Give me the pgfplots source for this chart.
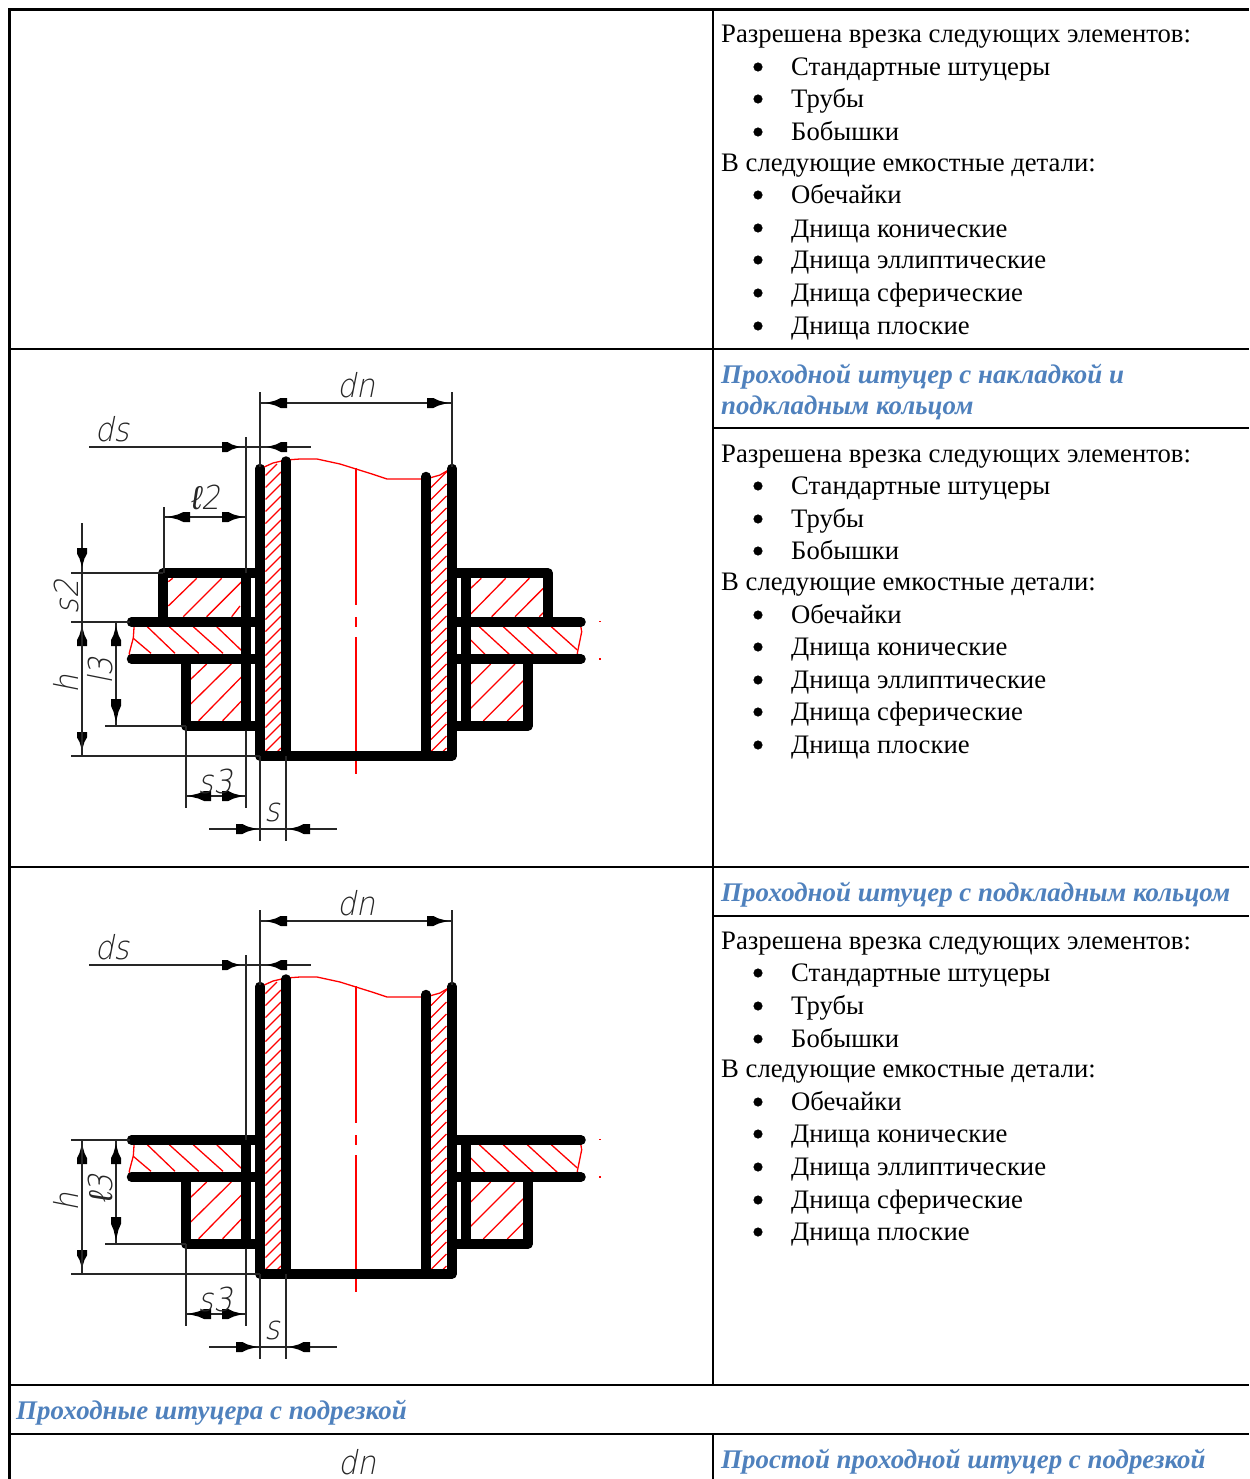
\documentclass[border=0pt]{standalone}
\usepackage{pgfplots}
\pgfplotsset{compat=1.18}
\usepackage{fontspec}
\setmainfont{Liberation Serif}
\newfontfamily\cad[FakeSlant=0.2,FakeStretch=0.9]{DejaVu Sans ExtraLight}
\newfontfamily\cadb[FakeSlant=0.15]{Liberation Sans}
\definecolor{hd}{HTML}{4F81BD}
\pgfplotsset{
 sft/.style={},
 thick line/.style={black,line width=9.5pt,line cap=round,line join=round,no marks,sft},
 thin line/.style={black!85,line width=1.4pt,no marks,sft},
 hatch/.style={red,line width=1.3pt,no marks,unbounded coords=jump,sft},
 grid line/.style={black,no marks,line cap=butt}
}
\newcommand\T[1]{\addplot[thick line] coordinates {#1};}
\newcommand\N[1]{\addplot[thin line] coordinates {#1};}
\newcommand\HH[1]{\addplot[hatch] coordinates {#1};}
\newcommand\harr[3]{% tip, tail, y
 \pgfmathsetmacro\mA{#1+0.45*(#2-#1)}\pgfmathsetmacro\mB{#1+0.7*(#2-#1)}%
 \pgfmathsetmacro\yA{#3-2.5}\pgfmathsetmacro\yB{#3+2.5}\pgfmathsetmacro\yC{#3-5}\pgfmathsetmacro\yD{#3+5}%
 \edef\tmp{\noexpand\addplot[fill=black,draw=none,no marks,sft] coordinates {(#1,#3)(\mA,\yA)(\mB,\yC)(#2,\yC)(#2,\yD)(\mB,\yD)(\mA,\yB)} --cycle;}\tmp}
\newcommand\varr[3]{% tip, tail, x
 \pgfmathsetmacro\mA{#1+0.45*(#2-#1)}\pgfmathsetmacro\mB{#1+0.7*(#2-#1)}%
 \pgfmathsetmacro\yA{#3-2.5}\pgfmathsetmacro\yB{#3+2.5}\pgfmathsetmacro\yC{#3-5}\pgfmathsetmacro\yD{#3+5}%
 \edef\tmp{\noexpand\addplot[fill=black,draw=none,no marks,sft] coordinates {(#3,#1)(\yA,\mA)(\yC,\mB)(\yC,#2)(\yD,#2)(\yD,\mB)(\yB,\mA)} --cycle;}\tmp}
\newcommand\wallhatch{%
 (265.5,487.5)(281,472)(265.5,nan)
 (265.5,499.5)(281,484)(265.5,nan)
 (265.5,511.5)(281,496)(265.5,nan)
 (265.5,523.5)(281,508)(265.5,nan)
 (265.5,535.5)(281,520)(265.5,nan)
 (265.5,547.5)(281,532)(265.5,nan)
 (265.5,559.5)(281,544)(265.5,nan)
 (265.5,571.5)(281,556)(265.5,nan)
 (265.5,583.5)(281,568)(265.5,nan)
 (265.5,595.5)(281,580)(265.5,nan)
 (265.5,607.5)(281,592)(265.5,nan)
 (265.5,619.5)(281,604)(265.5,nan)
 (265.5,631.5)(281,616)(265.5,nan)
 (265.5,643.5)(281,628)(265.5,nan)
 (265.5,655.5)(281,640)(265.5,nan)
 (265.5,667.5)(281,652)(265.5,nan)
 (265.5,679.5)(281,664)(265.5,nan)
 (265.5,691.5)(281,676)(265.5,nan)
 (265.5,703.5)(281,688)(265.5,nan)
 (265.5,715.5)(281,700)(265.5,nan)
 (265.5,727.5)(281,712)(265.5,nan)
 (265.5,739.5)(281,724)(265.5,nan)
 (265.5,751.5)(281,736)(265.5,nan)
 (277,752)(281,748)}
\newcommand\Common{%
 % hatching
 \edef\tmp{\noexpand\addplot[hatch] coordinates {\wallhatch};}\tmp
 \edef\tmp{\noexpand\addplot[hatch,x filter/.expression={x+165.5}] coordinates {\wallhatch};}\tmp
 \HH{(265.5,475.5)(277,464)}
 \HH{(133.3,638.3)(151,653.3)(0,nan)(147.3,626.7)(175,653.3)(0,nan)(169.3,626.7)(198.7,653.3)(0,nan)(193.3,626.7)(223,653.3)(0,nan)(216.7,626.7)(241.7,650.7)}
 \HH{(134.3,623)(133.3,638)(129.3,653)(130,658)}
 \HH{(190.7,679.3)(206.7,664)(0,nan)(190.7,704)(231.3,664)(0,nan)(198.7,720.7)(241.7,676.7)(0,nan)(222.7,720.7)(241.7,700.7)}
 \HH{(470.7,640)(485,654.3)(0,nan)(479.3,626.7)(509.3,654.3)(0,nan)(503.3,626.7)(533.3,654.3)(0,nan)(527.3,626.7)(557.3,654.3)(0,nan)(551.3,626.7)(577.3,650)}
 \HH{(580,621.7)(581.7,631.7)(577.3,653.3)(579.3,658.3)}
 \HH{(470.7,684)(490.7,664)(0,nan)(470.7,708.3)(515,664)(0,nan)(483.3,721)(523.3,680.7)(0,nan)(507.3,721)(523.3,705)}
 \HH{(599,621.7)(601,621.7)}\HH{(599,659)(601,659)}
 % centre line and wave
 \HH{(262,468)(273,463)(286,460)(300,459)(317,459)(340,464)(356,469)(372,474)(387,479)(426,479)(440,475)(452,468)}
 \addplot[red,line width=1.8pt,no marks,sft] coordinates {(356,468)(356,605)};
 \addplot[red,line width=1.8pt,no marks,sft] coordinates {(356,617)(356,627)};
 \addplot[red,line width=1.8pt,no marks,sft] coordinates {(356,637)(356,774)};
 % thick outline
 \T{(260,468.5)(260,756)(452,756)(452,468.5)}
 \T{(286,461)(286,756)}
 \T{(426,476.5)(426,756)}
 \T{(131.5,622)(260,622)}\T{(131.5,659)(260,659)}
 \T{(452,622)(581,622)}\T{(452,659)(581,659)}
 \T{(186,659)(186,726)(260,726)}
 \T{(528,659)(528,726)(452,726)}
 % thin dimensions
 \N{(260,392)(260,467)}\N{(452,392)(452,467)}\N{(260,403)(452,403)}
 \harr{266}{287}{403}\harr{448}{427}{403}
 \N{(89,447)(311,447)}\harr{240}{222}{447}\harr{267}{287}{447}
 \N{(71,622)(130,622)}\N{(71,756)(260,756)}
 \N{(105,726)(186,726)}
 \N{(116,622)(116,726)}\varr{626}{646}{116}\varr{722}{699}{116}
 \varr{626}{646}{82}\varr{750}{732}{82}
 \N{(186,726)(186,808)}\N{(246,726)(246,808)}\N{(186,796)(246,796)}
 \harr{188}{211}{796}\harr{243}{222}{796}
 \N{(260,756)(260,841)}\N{(286,756)(286,841)}\N{(209,829)(337,829)}
 \harr{257}{236}{829}\harr{289}{310}{829}
}
\newcommand\bul[1]{\addplot[only marks,mark=*,mark size=4.3pt,black,mark options={draw=black}] coordinates {#1};}
\newcommand\txt[2]{\node[anchor=base west,inner sep=0pt,xshift=-1pt,font=\fontsize{26.7}{30}\selectfont] at (axis cs:#1) {#2};}
\newcommand\head[2]{\node[anchor=base west,inner sep=0pt,xshift=-1pt,yshift=1pt,text=hd,font=\fontsize{26.9}{30}\selectfont\bfseries\itshape] at (axis cs:#1) {#2};}
\newcommand\lab[3][0]{\node[inner sep=0pt,yshift=1pt,rotate=#1,font=\fontsize{33}{33}\selectfont\cad,text=black!85] at (axis cs:#2) {#3};}
\begin{document}
\begin{tikzpicture}
\useasboundingbox (0,0) rectangle (1249pt,1479pt);
\begin{axis}[hide axis,scale only axis,width=1249pt,height=1479pt,anchor=south west,at={(0,0)},
 xmin=0,xmax=1249,ymin=0,ymax=1479,y dir=reverse,clip=false,unbounded coords=jump]
\addplot[fill=white,draw=none,no marks] coordinates {(0,0)(1249,0)(1249,1479)(0,1479)} --cycle;
% table rules
\addplot[grid line,line width=3pt] coordinates {(8,10)(1249,10)};
\addplot[grid line,line width=3pt] coordinates {(9.5,8.5)(9.5,1479)};
\addplot[grid line,line width=2pt] coordinates {(713,10)(713,1385)};
\addplot[grid line,line width=2pt] coordinates {(10,349)(1249,349)};
\addplot[grid line,line width=2pt] coordinates {(10,867)(1249,867)};
\addplot[grid line,line width=2pt] coordinates {(10,1385)(1249,1385)};
\addplot[grid line,line width=2pt] coordinates {(10,1434)(1249,1434)};
\addplot[grid line,line width=2pt] coordinates {(713,428)(1249,428)};
\addplot[grid line,line width=2pt] coordinates {(713,916)(1249,916)};
\addplot[grid line,line width=2pt] coordinates {(713,1434)(713,1479)};
% drawing 1
\HH{(168.3,606)(196.7,578.3)(0,nan)(183.3,616.7)(221.7,578.3)(0,nan)(206.7,616.7)(241.7,581.7)(0,nan)(231.7,616.7)(240,606)(0,nan)(168.3,581.7)(172.7,578.3)}
\HH{(470.7,588.3)(481.3,578.3)(0,nan)(470.7,614)(505.7,578.3)(0,nan)(491.7,616.7)(529.3,578.3)(0,nan)(515,616.7)(543.3,588.3)(0,nan)(539.3,616.7)(543.3,612.7)}
\Common
\T{(260,573)(163,573)(163,622)}
\T{(246,573)(246,726)}
\T{(452,573)(548,573)(548,622)}
\T{(466,573)(466,726)}
\N{(246,437)(246,573)}
\N{(164,507)(164,573)}\N{(164,517)(246,517)}
\harr{168}{190}{517}\harr{243}{222}{517}
\N{(71,573)(163,573)}
\N{(82,523)(82,756)}
\varr{567}{548}{82}
% drawing 2
\pgfplotsset{sft/.style={y filter/.expression={y+518}}}
\Common
\T{(246,622)(246,726)}
\T{(466,622)(466,726)}
\N{(246,437)(246,622)}
\N{(82,622)(82,756)}
\pgfplotsset{sft/.style={}}
% drawing labels
\lab{356,386}{dn}\lab{112,430}{ds}\lab{205,498}{{\cadb ℓ}2}\lab[90]{66,598}{s2}\lab[90]{66,685}{h}\lab[90]{100,672}{l3}\lab{215,782}{s3}\lab{272,813}{s}
\lab{356,904}{dn}\lab{112,948}{ds}\lab[90]{66,1203}{h}\lab[90]{100,1190}{{\cadb ℓ}3}\lab{215,1300}{s3}\lab{272,1331}{s}
\lab{357,1463}{dn}
% bullets
\bul{(758,67)(758,99)(758,132)(758,195)(758,228)(758,260)(758,293)(758,326)}
\bul{(758,486)(758,519)(758,551)(758,615)(758,647)(758,680)(758,712)(758,745)}
\bul{(758,973)(758,1006)(758,1039)(758,1102)(758,1134)(758,1167)(758,1200)(758,1232)}
% text 1
\txt{722,43}{Разрешена врезка следующих элементов:}
\txt{792,76}{Стандартные штуцеры}
\txt{792,108}{Трубы}
\txt{792,141}{Бобышки}
\txt{722,172}{В следующие емкостные детали:}
\txt{792,204}{Обечайки}
\txt{792,237}{Днища конические}
\txt{792,268}{Днища эллиптические}
\txt{792,301}{Днища сферические}
\txt{792,334}{Днища плоские}
\head{722,384}{Проходной штуцер с накладкой и}
\head{722,415}{подкладным кольцом}
\txt{722,462}{Разрешена врезка следующих элементов:}
\txt{792,494}{Стандартные штуцеры}
\txt{792,527}{Трубы}
\txt{792,559}{Бобышки}
\txt{722,590}{В следующие емкостные детали:}
\txt{792,623}{Обечайки}
\txt{792,655}{Днища конические}
\txt{792,688}{Днища эллиптические}
\txt{792,720}{Днища сферические}
\txt{792,753}{Днища плоские}
\head{722,902}{Проходной штуцер с подкладным кольцом}
\txt{722,949}{Разрешена врезка следующих элементов:}
\txt{792,981}{Стандартные штуцеры}
\txt{792,1014}{Трубы}
\txt{792,1047}{Бобышки}
\txt{722,1077}{В следующие емкостные детали:}
\txt{792,1110}{Обечайки}
\txt{792,1142}{Днища конические}
\txt{792,1175}{Днища эллиптические}
\txt{792,1208}{Днища сферические}
\txt{792,1240}{Днища плоские}
\head{17,1420}{Проходные штуцера с подрезкой}
\head{722,1469}{Простой проходной штуцер с подрезкой}
\end{axis}
\end{tikzpicture}
\end{document}
